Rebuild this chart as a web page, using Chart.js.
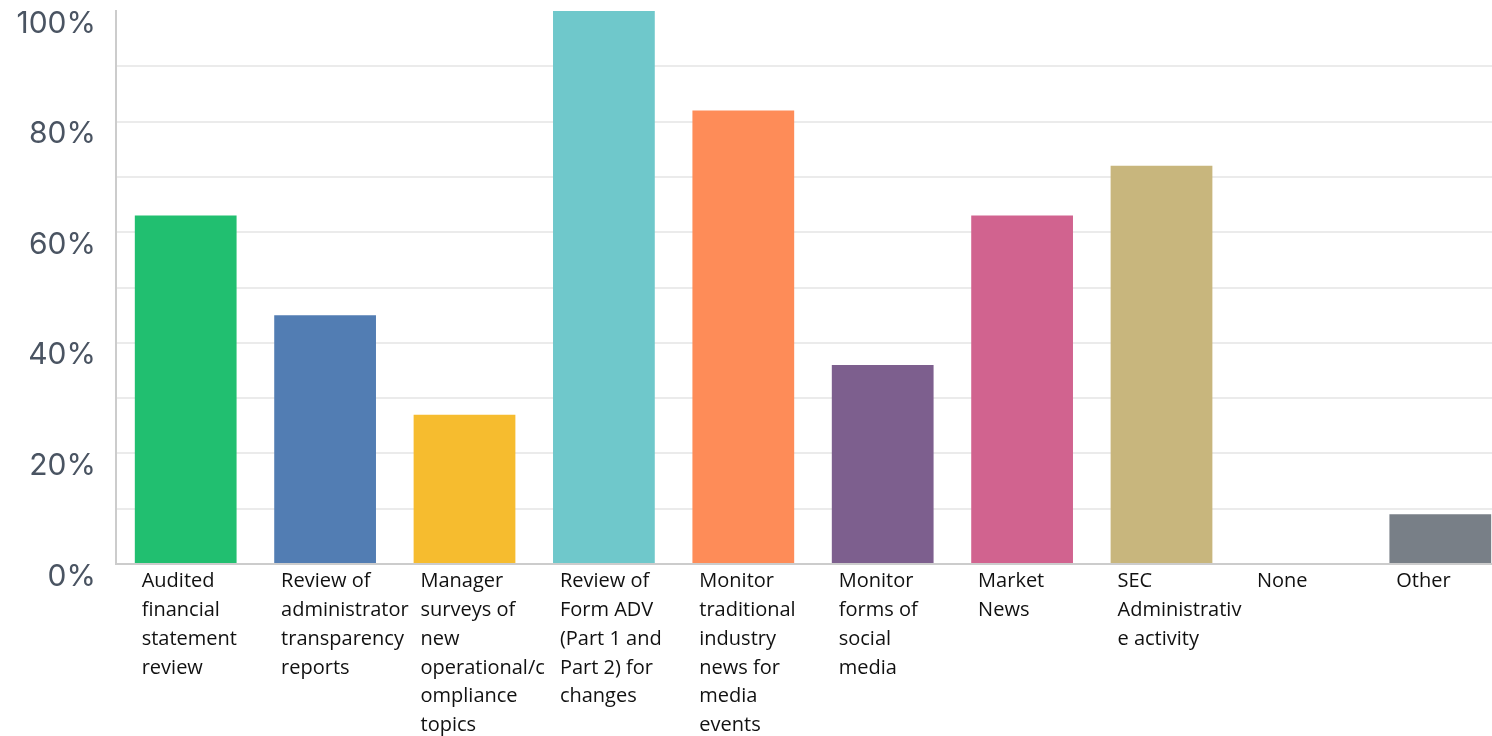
<!DOCTYPE html>
<html>
<head>
<meta charset="utf-8">
<script src="https://cdn.jsdelivr.net/npm/chart.js@4"></script>
<style>
  html, body { margin: 0; padding: 0; background: #ffffff; overflow: hidden; }
  #wrap { position: relative; width: 1510px; height: 736px; }
</style>
</head>
<body>
<div id="wrap"><canvas id="chart"></canvas></div>
<script>
// Survey responses: share of respondents using each monitoring practice
const categories = [
  ["Audited", "financial", "statement", "review"],
  ["Review of", "administrator", "transparency", "reports"],
  ["Manager", "surveys of", "new", "operational/c", "ompliance", "topics"],
  ["Review of", "Form ADV", "(Part 1 and", "Part 2) for", "changes"],
  ["Monitor", "traditional", "industry", "news for", "media", "events"],
  ["Monitor", "forms of", "social", "media"],
  ["Market", "News"],
  ["SEC", "Administrativ", "e activity"],
  ["None"],
  ["Other"]
];
const percentages = [63, 45, 27, 100, 82, 36, 63, 72, 0, 9];
const yTickValues = [0, 20, 40, 60, 80, 100];

const barColors = [
  "#21bf70", "#527db3", "#f6bc2f", "#6fc8cb", "#fe8c58",
  "#7d5f8e", "#d1638f", "#c8b67d", "#9aa0a6", "#787f87"
];

new Chart(document.getElementById("chart"), {
  type: "bar",
  data: {
    labels: categories,
    datasets: [{
      data: percentages,
      backgroundColor: barColors,
      borderWidth: 0,
      barPercentage: 0.73,
      categoryPercentage: 1.0
    }]
  },
  options: {
    responsive: true,
    maintainAspectRatio: false,
    animation: false,
    layout: { padding: { left: 0, right: 0, top: 11, bottom: 0 } },
    plugins: {
      legend: { display: false },
      tooltip: { enabled: false }
    },
    scales: {
      x: {
        grid: { display: false, drawTicks: false },
        border: { display: true, color: "#cccccc", width: 2 },
        ticks: {
          autoSkip: false,
          maxRotation: 0,
          minRotation: 0,
          align: "start",
          padding: 3,
          labelOffset: -44,
          color: "#111111",
          font: { family: "'Open Sans', sans-serif", size: 20, lineHeight: 1.44 }
        },
        afterFit: (scale) => { scale.height = 172; scale.paddingLeft = 0; scale.paddingRight = 0; }
      },
      y: {
        min: 0,
        max: 100,
        grid: {
          drawTicks: false,
          lineWidth: 2,
          color: (ctx) => (ctx.tick && (ctx.tick.value === 100 || ctx.tick.value === 0)) ? "rgba(0,0,0,0)" : "#ebebeb"
        },
        border: { display: true, color: "#cccccc", width: 2 },
        ticks: {
          stepSize: 10,
          padding: 20,
          labelOffset: 12.5,
          color: "#4a5462",
          font: { family: "Inter, sans-serif", size: 30 },
          callback: (v) => yTickValues.includes(v) ? v + "%" : ""
        },
        afterFit: (scale) => { scale.width = 116; scale.paddingTop = 0; scale.paddingBottom = 0; }
      }
    }
  }
});
</script>
</body>
</html>
